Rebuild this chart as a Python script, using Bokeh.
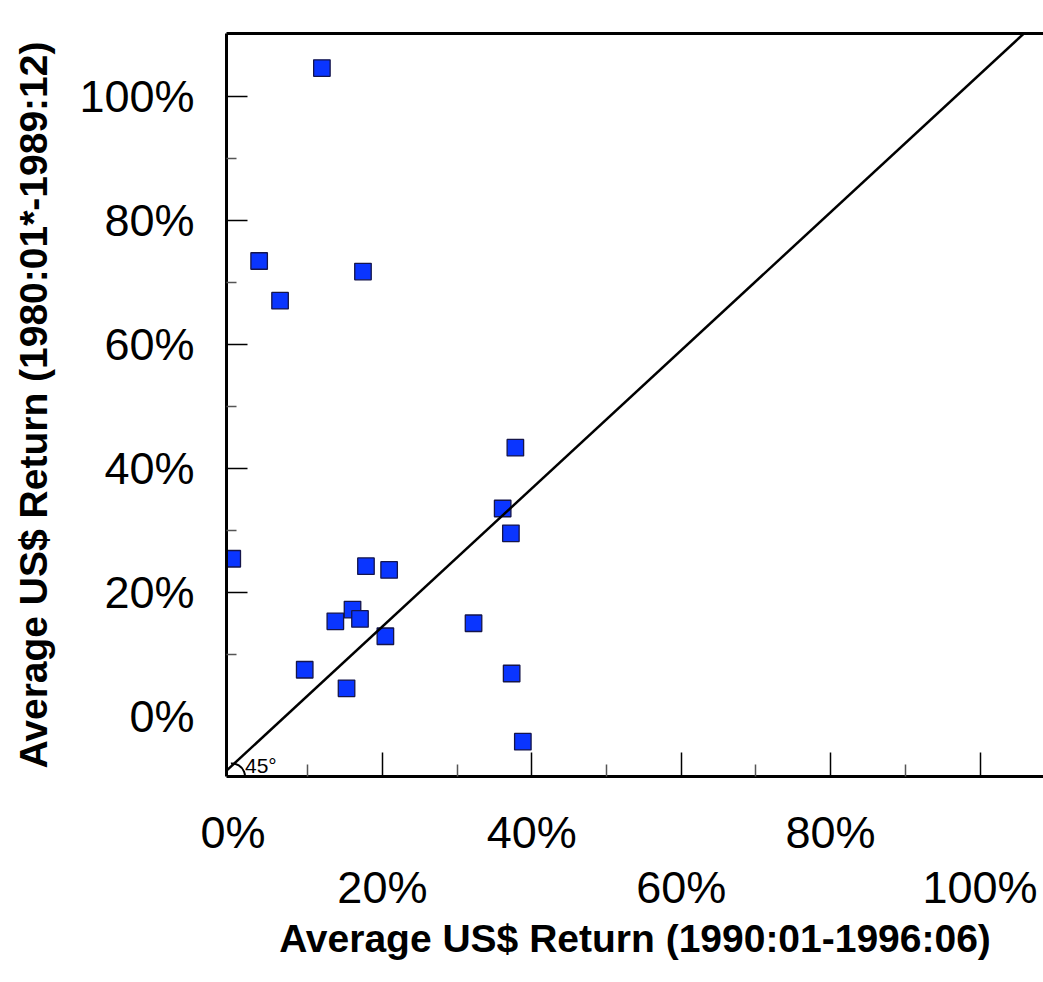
import math
from bokeh.plotting import figure
from bokeh.models import LinearAxis, FixedTicker, Range1d, Label, Arrow
from bokeh.embed import file_html
from bokeh.resources import INLINE

# ---- data (percent) ----
return_1990s = [11.9, 3.5, 6.3, 17.4, 37.8, 36.1, 37.2, -0.1, 17.8, 20.9,
                16.0, 13.7, 17.0, 20.4, 32.2, 9.6, 15.2, 37.3, 38.8]
return_1980s = [104.5, 73.4, 67.0, 71.7, 43.3, 33.5, 29.5, 25.4, 24.2, 23.6,
                17.2, 15.3, 15.7, 12.9, 15.0, 7.5, 4.5, 6.9, -4.1]

x_major_ticks = [20, 40, 60, 80, 100]
x_minor_ticks = [10, 30, 50, 70, 90]
x_labels_upper = [0, 40, 80]
x_labels_lower = [20, 60, 100]
y_major_ticks = [20, 40, 60, 80, 100]
y_minor_ticks = [10, 30, 50, 70, 90]
y_labels = [0, 20, 40, 60, 80, 100]

x_title = "Average US$ Return (1990:01-1996:06)"
y_title = "Average US$ Return (1980:01*-1989:12)"

# reference line (the "45°" line drawn from the lower-left corner)
diag_x = [-2.65, 108.5]
diag_y = [-10.75, 113.0]
angle_text = "45°"

X0, X1 = -0.87, 108.5
Y0, Y1 = -9.71, 110.08

FONT = "Liberation Sans"

p = figure(frame_width=817, frame_height=743,
           x_range=Range1d(X0, X1), y_range=Range1d(Y0, Y1),
           x_axis_location=None, y_axis_location=None,
           output_backend="svg", toolbar_location=None,
           min_border_left=226, min_border_right=0,
           min_border_top=33, min_border_bottom=199)
p.outline_line_color = None
p.xgrid.visible = False
p.ygrid.visible = False
p.background_fill_color = "white"
p.border_fill_color = "white"


def tick_axis(major, minor, tin, tmin):
    ax = LinearAxis(ticker=FixedTicker(ticks=major, minor_ticks=minor),
                    major_label_overrides={v: "" for v in major},
                    major_label_text_font_size="1px",
                    major_label_standoff=0,
                    major_tick_in=tin, major_tick_out=0,
                    minor_tick_in=tmin, minor_tick_out=0,
                    axis_line_color="black", axis_line_width=3,
                    major_tick_line_color="black", major_tick_line_width=1.5,
                    minor_tick_line_color="#555555", minor_tick_line_width=1.5)
    return ax


def label_axis(vals, standoff, size="45px"):
    ax = LinearAxis(ticker=FixedTicker(ticks=vals, minor_ticks=[]),
                    major_label_overrides={v: f"{v}%" for v in vals},
                    major_label_text_font=FONT,
                    major_label_text_font_size=size,
                    major_label_text_color="black",
                    major_label_standoff=standoff,
                    axis_line_color=None,
                    major_tick_line_color=None, minor_tick_line_color=None,
                    major_tick_in=0, major_tick_out=0)
    return ax


# bottom: tick axis + two staggered rows of labels
p.add_layout(tick_axis(x_major_ticks, x_minor_ticks, 24, 12), "below")
p.add_layout(label_axis(x_labels_upper, 30), "below")
xl = label_axis(x_labels_lower, 1)
xl.axis_label = x_title
xl.axis_label_text_font = FONT
xl.axis_label_text_font_style = "bold"
xl.axis_label_text_font_size = "39px"
xl.axis_label_text_color = "black"
xl.axis_label_standoff = 1
p.add_layout(xl, "below")

# left: tick axis + labels
p.add_layout(tick_axis(y_major_ticks, y_minor_ticks, 21, 10), "left")
yl = label_axis(y_labels, 32)
yl.axis_label = y_title
yl.axis_label_text_font = FONT
yl.axis_label_text_font_style = "bold"
yl.axis_label_text_font_size = "39px"
yl.axis_label_text_color = "black"
yl.axis_label_standoff = 21
p.add_layout(yl, "left")

# top border
top = LinearAxis(ticker=FixedTicker(ticks=[]), axis_line_color="black",
                 axis_line_width=3, major_tick_line_color=None,
                 minor_tick_line_color=None, major_label_text_font_size="1px",
                 major_label_standoff=0)
p.add_layout(top, "above")

# 45-degree reference line
p.add_layout(Arrow(x_start=diag_x[0], y_start=diag_y[0],
                   x_end=diag_x[1], y_end=diag_y[1],
                   start=None, end=None, line_color="black", line_width=2.5))

# angle arc + label
p.arc(x=[-0.13], y=[Y0], radius=13, radius_units="screen",
      start_angle=math.radians(-50), end_angle=math.radians(95),
      line_color="black", line_width=2)
p.add_layout(Label(x=1.6, y=Y0, y_offset=0, text=angle_text, text_font=FONT,
                   text_font_size="21px", text_color="black",
                   text_baseline="bottom", text_align="left"))

# data points
p.scatter(return_1990s, return_1980s, marker="square", size=16.5,
          fill_color="#0A35FF", line_color="#15154a", line_width=1.3)

open("out.html", "w").write(file_html(p, INLINE))
